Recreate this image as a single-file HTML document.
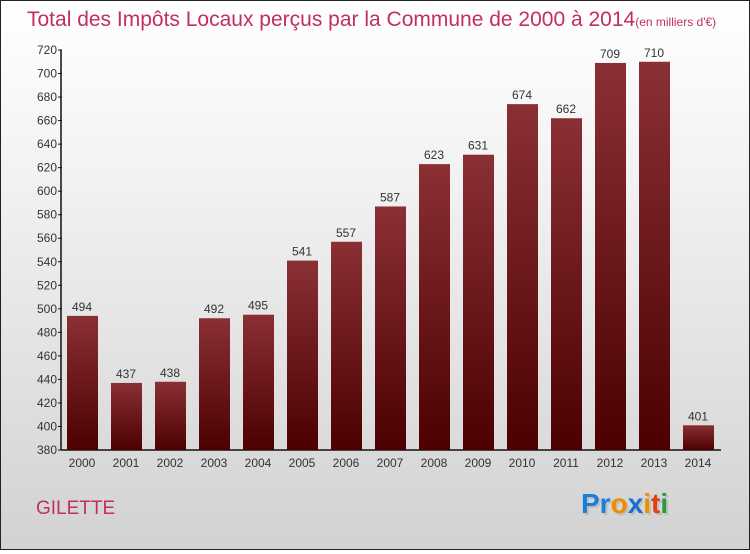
<!DOCTYPE html>
<html><head><meta charset="utf-8"><style>
html,body{margin:0;padding:0}
body{width:750px;height:550px;overflow:hidden;font-family:"Liberation Sans",sans-serif}
#wrap{position:relative;width:748px;height:548px;border:1px solid #222;background:linear-gradient(#ffffff,#f3f3f3 30%,#d2d2d2)}
</style></head><body>
<div id="wrap">
<svg id="chart" width="748" height="548">
<defs><linearGradient id="bg" x1="0" y1="0" x2="0" y2="1"><stop offset="0" stop-color="#8a3034"/><stop offset="1" stop-color="#4c0000"/></linearGradient></defs>
<text x="26" y="25" font-size="21" fill="#c2305a">Total des Impôts Locaux perçus par la Commune de 2000 à 2014<tspan font-size="12">(en milliers d'€)</tspan></text>
<text x="35" y="513" font-size="19" fill="#c2305a">GILETTE</text>
<g font-size="28" font-weight="bold">
<text x="582" y="514" fill="#aaa" opacity="0.5">Proxiti</text>
<text x="580" y="512"><tspan fill="#1a7fd8">Pr</tspan><tspan fill="#f08c00">o</tspan><tspan fill="#1a6fd0">x</tspan><tspan fill="#f08c00">i</tspan><tspan fill="#e04010">t</tspan><tspan fill="#2a9a3a">i</tspan></text>
</g>
<g id="axes"></g><g id="bars"></g>
</svg>
</div>
<script>
const years=["2000","2001","2002","2003","2004","2005","2006","2007","2008","2009","2010","2011","2012","2013","2014"];
const values=[494,437,438,492,495,541,557,587,623,631,674,662,709,710,401];
const yTicks=[380,400,420,440,460,480,500,520,540,560,580,600,620,640,660,680,700,720];
const NS="http://www.w3.org/2000/svg";
const y0=449,y1=49,vmin=380,vmax=720;
function yS(v){return y0-(v-vmin)/(vmax-vmin)*(y0-y1);}
function xS(i){return 81+i*44;}
function mk(t,a,p){const e=document.createElementNS(NS,t);for(const k in a)e.setAttribute(k,a[k]);p.appendChild(e);return e;}
const ax=document.getElementById('axes'),bs=document.getElementById('bars');
const yl=mk('line',{x1:60,y1:y1,x2:60,y2:y0,stroke:'#111','stroke-width':1.5},ax);


const xl=mk('line',{x1:60,y1:y0,x2:720,y2:y0,stroke:'#111','stroke-width':1.5},ax);


yTicks.forEach(v=>{
 mk('line',{x1:57,x2:61,y1:yS(v),y2:yS(v),stroke:'#111'},ax);
 const t=mk('text',{x:56,y:yS(v)+4,'text-anchor':'end','font-size':12,fill:'#333'},ax);
 t.textContent=v;
 
 
});
years.forEach((yr,i)=>{
 const v=values[i],x=xS(i);
 const r=mk('rect',{x:x-15,y:yS(v),width:31,height:y0-yS(v),fill:'url(#bg)'},bs);
 
 
 const l=mk('text',{x:x,y:yS(v)-5,'text-anchor':'middle','font-size':12,fill:'#333'},bs);
 l.textContent=v;
 
 
 const xt=mk('text',{x:x,y:466,'text-anchor':'middle','font-size':12,fill:'#333'},ax);
 xt.textContent=yr;
 
 
});
</script>
</body></html>
